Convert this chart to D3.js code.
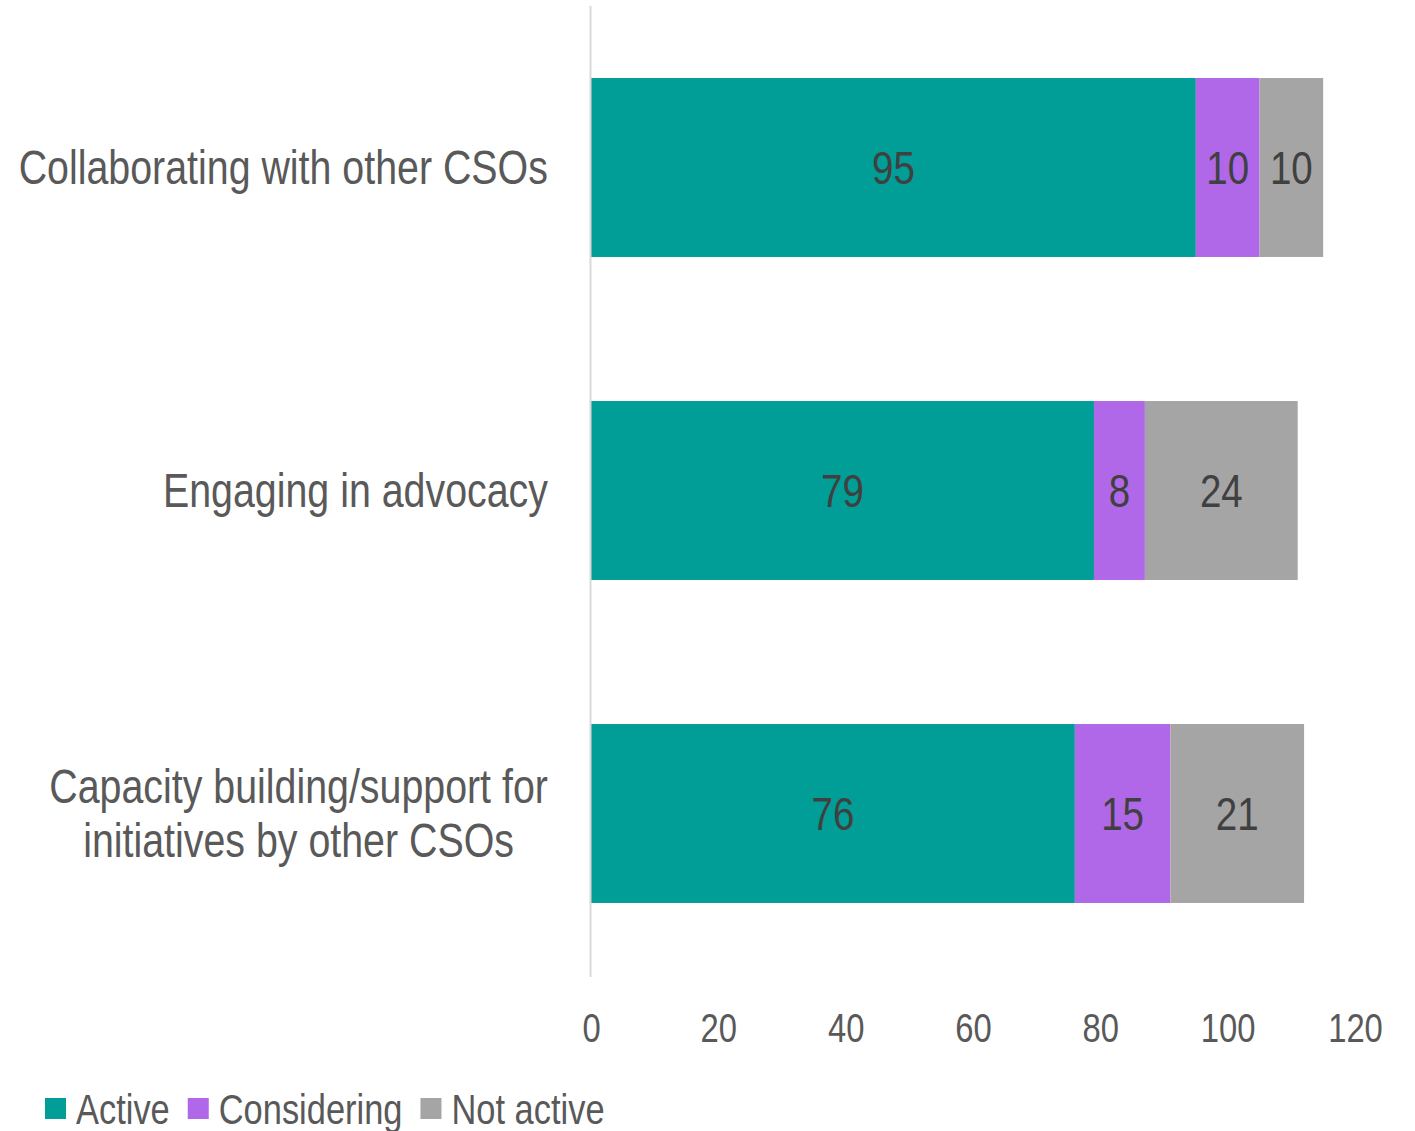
<!DOCTYPE html>
<html>
<head>
<meta charset="utf-8">
<script src="https://cdn.jsdelivr.net/npm/d3@7"></script>
<style>
  html, body { margin: 0; padding: 0; background: #fff; }
  svg { display: block; }
  text { font-family: "Liberation Sans", Arial, sans-serif; }
</style>
</head>
<body>
<svg id="chart" width="1415" height="1131"></svg>
<script>
// Activities (each label may hold several lines)
const categories = [
  ["Collaborating with other CSOs"],
  ["Engaging in advocacy"],
  ["Capacity building/support for", "initiatives by other CSOs"]
];
const seriesNames = ["Active", "Considering", "Not active"];
const activeValues = [95, 79, 76];
const consideringValues = [10, 8, 15];
const notActiveValues = [10, 24, 21];
const xTicks = [0, 20, 40, 60, 80, 100, 120];

const colors = ["#009E96", "#B068E8", "#A5A5A5"];

// narrow lettering: regular sans squeezed horizontally
const NARROW = 0.82;
const placeText = (sel, px, py) =>
  sel.attr("transform", `translate(${px},${py}) scale(${NARROW},1)`);

const svg = d3.select("#chart");
const plot = { left: 591, right: 1355, top: 6, bottom: 975 };

const rows = categories.map((c, i) => ({
  key: c.join(" "),
  lines: c,
  Active: activeValues[i],
  Considering: consideringValues[i],
  "Not active": notActiveValues[i]
}));

const stacked = d3.stack().keys(seriesNames)(rows);

const x = d3.scaleLinear().domain([0, 120]).range([plot.left, plot.right]);
const y = d3.scaleBand()
  .domain(rows.map(d => d.key))
  .range([plot.top, plot.bottom])
  .paddingInner(0.446)
  .paddingOuter(0.223);

// Bars
const layers = svg.append("g").selectAll("g")
  .data(stacked)
  .join("g")
  .attr("fill", (d, i) => colors[i]);

layers.selectAll("rect")
  .data(d => d)
  .join("rect")
  .attr("x", d => x(d[0]))
  .attr("y", d => y(d.data.key))
  .attr("width", d => x(d[1]) - x(d[0]))
  .attr("height", y.bandwidth());

// Segment value labels
layers.selectAll("text")
  .data(d => d.map(v => ({ v, val: v[1] - v[0] })))
  .join("text")
  .each(function (d) {
    placeText(d3.select(this),
      (x(d.v[0]) + x(d.v[1])) / 2,
      y(d.v.data.key) + y.bandwidth() / 2);
  })
  .attr("dy", "0.35em")
  .attr("text-anchor", "middle")
  .attr("fill", "#404040")
  .style("font-size", "47px")
  .text(d => d.val);

// Vertical category axis line
svg.append("line")
  .attr("x1", x(0) - 0.5).attr("x2", x(0) - 0.5)
  .attr("y1", plot.top).attr("y2", plot.bottom + 2)
  .attr("stroke", "#D9D9D9")
  .attr("stroke-width", 2);

// Category labels: block right-aligned to the axis, lines centred within the block
const labelRight = 548;
const lineGap = 54;
const catG = svg.append("g");
rows.forEach(r => {
  const g = catG.append("g");
  const texts = r.lines.map(ln => g.append("text")
    .attr("fill", "#595959")
    .style("font-size", "48px")
    .attr("text-anchor", "middle")
    .attr("dy", "0.35em")
    .text(ln));
  const maxW = d3.max(texts, t => t.node().getComputedTextLength()) * NARROW;
  texts.forEach((t, i) => placeText(t,
    labelRight - maxW / 2,
    y(r.key) + y.bandwidth() / 2 + (i - (r.lines.length - 1) / 2) * lineGap));
});

// Value axis (bottom), labels only
const xAxis = d3.axisBottom(x).tickValues(xTicks).tickSize(0).tickPadding(0);
const axG = svg.append("g")
  .attr("transform", `translate(0, ${plot.bottom + 53})`)
  .call(xAxis);
axG.select(".domain").remove();
axG.selectAll("text")
  .attr("y", 0)
  .attr("transform", `scale(${NARROW},1)`)
  .attr("fill", "#595959")
  .attr("dy", "0.35em")
  .style("font-size", "40px")
  .style("font-family", "'Liberation Sans', Arial, sans-serif");

// Legend
const legend = svg.append("g").attr("transform", "translate(45, 1109)");
let lx = 0;
seriesNames.forEach((name, i) => {
  const item = legend.append("g").attr("transform", `translate(${lx}, 0)`);
  item.append("rect")
    .attr("x", 0).attr("y", -11)
    .attr("width", 21).attr("height", 21)
    .attr("fill", colors[i]);
  const t = item.append("text")
    .attr("dy", "0.35em")
    .attr("fill", "#595959")
    .style("font-size", "42px")
    .text(name);
  placeText(t, 31, 0);
  lx += 31 + t.node().getComputedTextLength() * NARROW + 18;
});
</script>
</body>
</html>
